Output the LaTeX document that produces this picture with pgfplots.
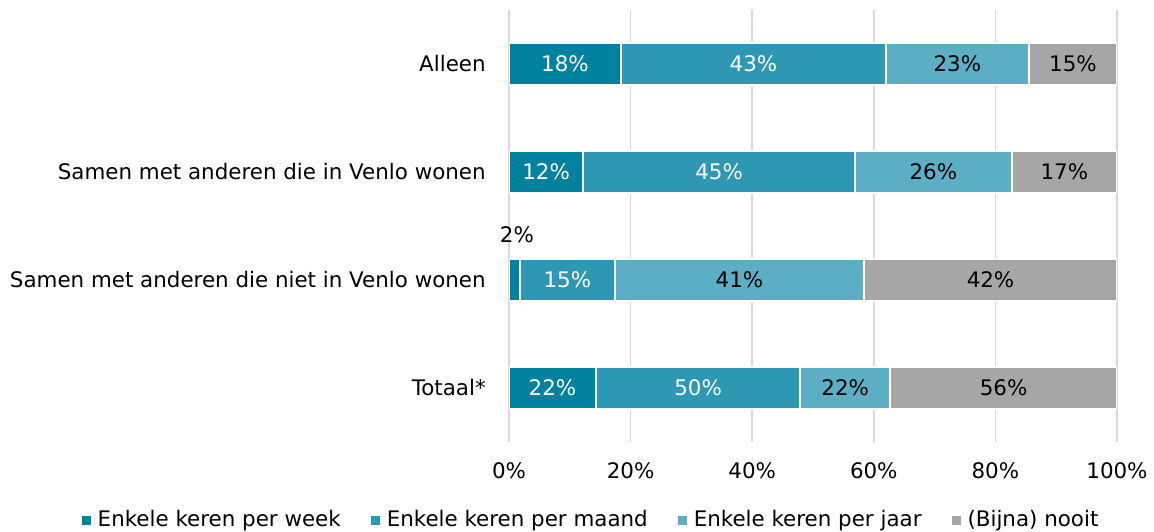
\documentclass[border=0pt]{standalone}
\usepackage{fontspec}
\setmainfont{DejaVu Sans}
\usepackage{pgfplots}
\pgfplotsset{compat=1.18}
\definecolor{c1}{HTML}{00819E}
\definecolor{c2}{HTML}{2E98B4}
\definecolor{c3}{HTML}{5CAEC4}
\definecolor{c4}{HTML}{A6A6A6}
\definecolor{gridc}{HTML}{D9D9D9}
\newcommand{\fs}{\fontsize{21.4pt}{25pt}\selectfont}
\begin{document}
\fs
\begin{tikzpicture}
\useasboundingbox (0pt,0pt) rectangle (1154pt,531pt);
\pgfplotsset{
  common/.style={
    at={(509pt,89pt)}, anchor=south west,
    width=608pt, height=432pt, scale only axis,
    xmin=0, xmax=100, ymin=-0.5, ymax=3.5, y dir=reverse,
    axis line style={draw=none}, tick style={draw=none},
  }
}
\begin{axis}[common,
  xbar stacked, bar width=42pt,
  xtick={0,20,40,60,80,100},
  xticklabels={0\%,20\%,40\%,60\%,80\%,100\%},
  xmajorgrids, major grid style={gridc, line width=1.5pt},
  ytick={0,1,2,3},
  yticklabels={Alleen, Samen met anderen die in Venlo wonen, Samen met anderen die niet in Venlo wonen, Totaal*},
  tick label style={font=\fs},
  y tick label style={xshift=-16pt},
  x tick label style={yshift=-13pt},
  legend style={at={(0.135,-0.18)}, anchor=center, draw=none, fill=none,
    legend columns=-1,
    /tikz/every odd column/.append style={column sep=5pt},
    /tikz/every even column/.append style={column sep=28pt},
    font=\fs},
  legend image code/.code={\fill[#1, draw=none] (0pt,-5pt) rectangle (9pt,4pt);},
  every axis plot/.append style={draw=white, line width=1.5pt},
]
\addplot[fill=c1] coordinates {(18.4,0) (12.2,1) (1.8,2) (14.3,3)};
\addplot[fill=c2] coordinates {(43.6,0) (44.7,1) (15.6,2) (33.6,3)};
\addplot[fill=c3] coordinates {(23.5,0) (25.8,1) (41.0,2) (14.8,3)};
\addplot[fill=c4] coordinates {(14.5,0) (17.3,1) (41.6,2) (37.3,3)};
\legend{Enkele keren per week, Enkele keren per maand, Enkele keren per jaar, (Bijna) nooit}
\end{axis}
\begin{axis}[common, xtick=\empty, ytick=\empty,
  nodes near coords, point meta=explicit symbolic,
  every node near coord/.append style={anchor=center, font=\fs}]
\addplot[only marks, mark=none, nodes near coords style={text=white}] table[meta=l] {
x y l
9.2 0 18\%
40.2 0 43\%
6.1 1 12\%
34.55 1 45\%
9.6 2 15\%
7.15 3 22\%
31.1 3 50\%
};
\addplot[only marks, mark=none, nodes near coords style={text=black}] table[meta=l] {
x y l
73.75 0 23\%
92.75 0 15\%
69.8 1 26\%
91.35 1 17\%
1.3 1.58 2\%
37.9 2 41\%
79.2 2 42\%
55.3 3 22\%
81.35 3 56\%
};
\end{axis}
\end{tikzpicture}
\end{document}
